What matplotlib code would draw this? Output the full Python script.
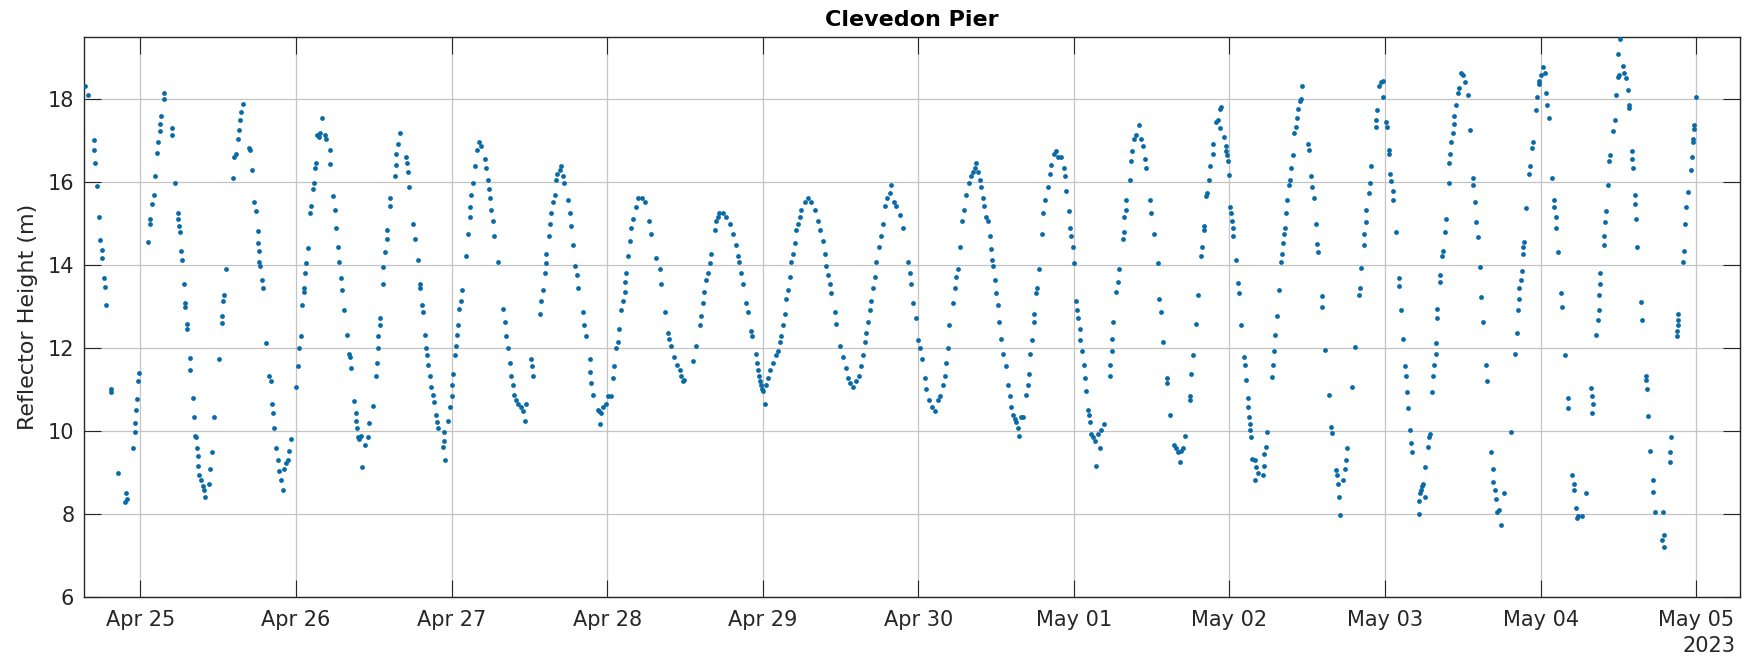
import datetime as dt
import matplotlib
matplotlib.use("Agg")
import matplotlib.pyplot as plt
import matplotlib.dates as mdates

# GNSS-IR reflector height retrievals: (hour of day UTC, height in m), one list per day
apr24 = [
    (15.46, 18.32), (15.97, 18.09), (16.80, 17.01), (16.85, 16.78), (17.00, 16.47),
    (17.31, 15.90), (17.67, 15.16), (17.83, 14.60), (18.03, 14.37), (18.13, 14.17),
    (18.44, 13.68), (18.48, 13.47), (18.70, 13.05), (19.45, 11.02), (19.50, 10.93),
    (20.50, 9.00), (21.70, 8.30), (21.80, 8.50), (21.90, 8.36), (22.80, 9.60),
    (23.15, 9.98), (23.22, 10.20), (23.38, 10.50), (23.42, 10.77), (23.68, 11.20),
    (23.72, 11.40),
]
apr25 = [
    (1.23, 14.55), (1.43, 14.98), (1.45, 15.12), (1.74, 15.48), (2.05, 15.70),
    (2.26, 16.15), (2.56, 16.71), (2.77, 16.98), (3.00, 17.23), (3.08, 17.41),
    (3.16, 17.59), (3.60, 18.00), (3.70, 18.14), (4.83, 17.31), (4.88, 17.13),
    (5.40, 15.97), (5.75, 15.25), (5.85, 15.12), (6.00, 14.94), (6.05, 14.80),
    (6.26, 14.35), (6.37, 14.13), (6.68, 13.54), (6.88, 13.09), (6.92, 12.98),
    (7.14, 12.58), (7.18, 12.46), (7.60, 11.76), (7.70, 11.47), (8.06, 10.79),
    (8.20, 10.34), (8.47, 9.89), (8.58, 9.85), (8.73, 9.58), (8.84, 9.40),
    (8.94, 9.17), (9.09, 8.95), (9.35, 8.81), (9.61, 8.68), (9.76, 8.59),
    (9.96, 8.41), (10.63, 8.72), (10.79, 9.08), (11.05, 9.49), (11.40, 10.34),
    (12.17, 11.74), (12.54, 12.60), (12.58, 12.77), (12.79, 13.14), (12.83, 13.27),
    (13.20, 13.90), (14.23, 16.11), (14.49, 16.60), (14.75, 16.69), (15.00, 17.05),
    (15.20, 17.25), (15.36, 17.50), (15.52, 17.70), (15.83, 17.89), (16.80, 16.83),
    (16.96, 16.77), (17.16, 16.29), (17.57, 15.52), (17.83, 15.30), (18.09, 14.82),
    (18.19, 14.53), (18.24, 14.35), (18.34, 14.08), (18.50, 13.99), (18.70, 13.63),
    (18.86, 13.45), (19.37, 12.12), (19.89, 11.33), (20.14, 11.20), (20.30, 10.66),
    (20.40, 10.43), (20.66, 10.07), (20.91, 9.58), (21.17, 9.31), (21.43, 9.04),
    (21.69, 8.81), (21.94, 8.59), (22.20, 9.08), (22.46, 9.22), (22.82, 9.31),
    (22.97, 9.53), (23.23, 9.80),
]
apr26 = [
    (0.00, 11.06), (0.30, 11.56), (0.50, 12.00), (0.70, 12.28), (1.00, 13.05),
    (1.20, 13.36), (1.30, 13.45), (1.40, 13.81), (1.50, 14.04), (1.80, 14.42),
    (2.20, 15.25), (2.37, 15.43), (2.63, 15.84), (2.73, 15.97), (2.90, 16.33),
    (3.04, 16.47), (3.20, 17.14), (3.55, 17.10), (3.76, 17.19), (4.07, 17.55),
    (4.43, 17.14), (4.68, 17.05), (5.20, 16.78), (5.30, 16.44), (5.70, 15.66),
    (6.00, 15.34), (6.20, 14.89), (6.50, 14.44), (6.60, 14.08), (7.00, 13.68),
    (7.15, 13.41), (7.40, 12.91), (7.80, 12.32), (8.20, 11.87), (8.40, 11.78),
    (8.45, 11.51), (8.90, 10.73), (9.20, 10.43), (9.30, 10.25), (9.40, 10.07),
    (9.57, 9.85), (9.72, 9.80), (10.08, 9.89), (10.20, 9.13), (10.60, 9.67),
    (11.10, 9.85), (11.26, 10.20), (11.88, 10.61), (12.30, 11.33), (12.50, 11.65),
    (12.65, 12.00), (12.70, 12.28), (12.90, 12.55), (12.95, 12.73), (13.40, 13.54),
    (13.50, 13.95), (13.80, 14.31), (14.00, 14.62), (14.05, 14.85), (14.45, 15.43),
    (14.55, 15.61), (15.20, 16.15), (15.37, 16.42), (15.50, 16.69), (15.70, 16.92),
    (16.00, 17.19), (16.90, 16.60), (17.10, 16.47), (17.30, 16.24), (17.50, 15.88),
    (18.05, 14.98), (18.30, 14.62), (18.80, 14.13), (19.10, 13.54), (19.20, 13.45),
    (19.50, 13.05), (19.60, 12.86), (19.85, 12.32), (20.10, 12.00), (20.20, 11.83),
    (20.40, 11.60), (20.60, 11.33), (20.90, 11.06), (21.10, 10.88), (21.30, 10.70),
    (21.60, 10.39), (21.80, 10.21), (21.90, 10.07), (22.70, 9.62), (22.80, 9.98),
    (22.90, 9.76), (22.95, 9.31), (23.40, 10.25), (23.70, 10.57),
]
apr27 = [
    (0.00, 10.84), (0.10, 11.10), (0.20, 11.38), (0.50, 11.83), (0.70, 12.05),
    (0.80, 12.32), (1.00, 12.55), (1.20, 12.95), (1.50, 13.14), (1.65, 13.41),
    (2.20, 14.22), (2.50, 14.76), (2.80, 15.16), (2.90, 15.39), (3.00, 15.70),
    (3.30, 15.97), (3.60, 16.38), (3.90, 16.78), (4.30, 16.96), (4.60, 16.87),
    (5.10, 16.56), (5.35, 16.33), (5.60, 16.06), (5.80, 15.84), (6.00, 15.61),
    (6.10, 15.34), (6.40, 15.07), (6.60, 14.71), (7.15, 14.08), (8.00, 12.95),
    (8.20, 12.64), (8.40, 12.28), (8.70, 12.00), (9.00, 11.65), (9.20, 11.33),
    (9.50, 11.10), (9.70, 10.88), (10.00, 10.75), (10.20, 10.66), (10.75, 10.57),
    (11.00, 10.48), (11.40, 10.25), (11.50, 10.66), (12.30, 11.74), (12.45, 11.56),
    (12.60, 11.33), (13.70, 12.82), (13.80, 13.14), (14.10, 13.41), (14.40, 13.81),
    (14.50, 14.04), (14.60, 14.26), (15.10, 14.71), (15.20, 14.98), (15.40, 15.25),
    (15.60, 15.52), (15.90, 15.70), (16.05, 16.06), (16.30, 16.20), (16.70, 16.29),
    (16.90, 16.38), (17.20, 16.15), (17.40, 15.97), (17.95, 15.57), (18.20, 15.25),
    (18.50, 14.94), (18.70, 14.49), (19.10, 13.99), (19.30, 13.77), (19.50, 13.45),
    (20.30, 12.86), (20.50, 12.55), (20.70, 12.28), (21.30, 11.74), (21.40, 11.42),
    (21.55, 11.15), (21.80, 10.88), (22.60, 10.52), (22.80, 10.48), (22.85, 10.16),
    (23.10, 10.43), (23.35, 10.57), (23.76, 10.66),
]
apr28 = [
    (0.10, 10.84), (0.60, 10.84), (0.90, 11.29), (1.10, 11.56), (1.40, 12.00),
    (1.70, 12.14), (1.80, 12.46), (2.20, 12.91), (2.40, 13.14), (2.70, 13.36),
    (2.80, 13.59), (2.90, 13.81), (3.20, 14.22), (3.50, 14.58), (3.70, 14.89),
    (4.00, 15.12), (4.40, 15.39), (4.70, 15.61), (5.30, 15.61), (5.80, 15.52),
    (6.50, 15.07), (6.80, 14.76), (7.60, 14.17), (8.10, 13.90), (8.30, 13.54),
    (8.90, 12.86), (9.40, 12.37), (9.60, 12.23), (9.90, 12.05), (10.25, 11.78),
    (10.70, 11.60), (11.20, 11.47), (11.40, 11.33), (11.70, 11.20), (11.90, 11.24),
    (13.20, 11.69), (13.70, 12.05), (14.30, 12.55), (14.50, 12.77), (14.80, 13.09),
    (15.00, 13.36), (15.30, 13.63), (15.50, 13.81), (15.80, 14.04), (16.05, 14.26),
    (16.60, 14.85), (16.80, 15.07), (17.10, 15.16), (17.30, 15.25), (17.85, 15.25),
    (18.40, 15.16), (18.90, 14.98), (19.40, 14.76), (19.90, 14.49), (20.20, 14.22),
    (20.40, 14.08), (20.70, 13.81), (20.95, 13.54), (21.45, 13.09), (21.70, 12.86),
    (22.20, 12.41), (22.40, 12.30), (22.90, 11.87), (23.10, 11.65), (23.30, 11.47),
    (23.50, 11.33), (23.60, 11.20), (23.80, 11.10), (23.90, 11.02),
]
apr29 = [
    (0.10, 10.97), (0.30, 10.66), (0.55, 11.11), (0.80, 11.29), (1.07, 11.47),
    (1.58, 11.65), (2.10, 11.83), (2.35, 11.92), (2.60, 12.14), (2.87, 12.28),
    (3.10, 12.55), (3.38, 12.82), (3.64, 13.18), (3.90, 13.41), (4.15, 13.72),
    (4.40, 14.08), (4.70, 14.26), (4.90, 14.53), (5.20, 14.85), (5.40, 14.98),
    (5.70, 15.16), (5.95, 15.34), (6.50, 15.52), (7.00, 15.61), (7.50, 15.52),
    (8.00, 15.34), (8.50, 15.07), (8.80, 14.85), (9.30, 14.58), (9.55, 14.26),
    (9.80, 13.99), (10.10, 13.77), (10.30, 13.54), (10.60, 13.32), (11.10, 12.86),
    (11.35, 12.59), (11.90, 12.05), (12.40, 11.78), (12.80, 11.51), (13.15, 11.29),
    (13.40, 11.15), (13.90, 11.06), (14.40, 11.20), (14.90, 11.33), (15.20, 11.56),
    (15.50, 11.83), (15.70, 12.14), (16.00, 12.37), (16.20, 12.64), (16.50, 12.91),
    (16.70, 13.14), (17.00, 13.45), (17.30, 13.72), (17.50, 14.08), (17.90, 14.44),
    (18.30, 14.71), (18.50, 14.98), (18.80, 15.43), (19.10, 15.61), (19.60, 15.75),
    (19.80, 15.93), (20.20, 15.52), (20.60, 15.43), (21.10, 15.21), (21.60, 14.89),
    (22.40, 14.08), (22.70, 13.81), (22.90, 13.54), (23.20, 13.09), (23.60, 12.73),
    (23.90, 12.19),
]
apr30 = [
    (0.20, 12.01), (0.60, 11.74), (0.97, 11.29), (1.20, 11.02), (1.70, 10.75),
    (2.10, 10.57), (2.50, 10.48), (3.00, 10.75), (3.40, 10.84), (3.80, 11.11),
    (4.05, 11.33), (4.30, 11.65), (4.60, 12.01), (4.80, 12.55), (5.30, 13.09),
    (5.60, 13.45), (5.85, 13.72), (6.10, 13.90), (6.40, 14.44), (6.80, 15.07),
    (7.00, 15.34), (7.40, 15.70), (7.80, 15.97), (8.20, 16.15), (8.50, 16.24),
    (8.70, 16.33), (8.90, 16.47), (9.20, 16.24), (9.50, 16.06), (9.70, 15.88),
    (10.00, 15.61), (10.20, 15.43), (10.50, 15.16), (10.70, 15.07), (11.00, 14.71),
    (11.25, 14.40), (11.40, 14.13), (11.50, 13.99), (11.90, 13.63), (12.00, 13.32),
    (12.30, 13.05), (12.50, 12.64), (12.80, 12.23), (13.05, 11.87), (13.60, 11.56),
    (13.80, 11.11), (14.10, 10.84), (14.30, 10.57), (14.60, 10.39), (14.85, 10.30),
    (15.10, 10.21), (15.40, 10.07), (15.60, 9.89), (15.90, 10.34), (16.10, 10.34),
    (16.65, 10.88), (16.90, 11.11), (17.06, 11.38), (17.30, 11.87), (17.60, 12.19),
    (17.80, 12.64), (17.90, 12.82), (18.20, 13.32), (18.30, 13.45), (18.60, 13.90),
    (19.10, 14.76), (19.30, 15.25), (19.60, 15.57), (20.00, 15.88), (20.25, 16.20),
    (20.50, 16.42), (20.90, 16.69), (21.20, 16.74), (21.50, 16.60), (22.05, 16.60),
    (22.40, 16.33), (22.70, 16.15), (22.80, 15.79), (23.20, 15.30), (23.40, 14.89),
    (23.60, 14.71), (23.85, 14.44), (23.95, 14.04),
]
may01 = [
    (0.40, 13.14), (0.50, 12.91), (0.60, 12.73), (0.90, 12.46), (1.00, 12.19),
    (1.30, 11.92), (1.50, 11.60), (1.65, 11.29), (1.80, 10.97), (2.20, 10.52),
    (2.30, 10.39), (2.50, 10.21), (2.70, 9.94), (2.90, 9.85), (3.20, 9.76),
    (3.40, 9.17), (3.70, 9.94), (3.96, 9.58), (4.20, 10.03), (4.60, 10.16),
    (5.50, 11.33), (5.60, 11.60), (5.80, 11.92), (5.90, 12.23), (6.10, 12.64),
    (6.50, 13.36), (6.80, 13.59), (6.90, 13.90), (7.50, 14.62), (7.70, 14.80),
    (7.80, 15.16), (8.00, 15.34), (8.10, 15.57), (8.60, 16.06), (8.80, 16.51),
    (9.00, 16.74), (9.20, 17.05), (9.60, 17.14), (10.00, 17.37), (10.40, 17.05),
    (10.60, 16.87), (10.90, 16.56), (11.10, 16.33), (11.70, 15.57), (11.90, 15.25),
    (12.30, 14.76), (12.95, 14.04), (13.20, 13.18), (13.50, 12.86), (13.80, 12.14),
    (14.30, 11.29), (14.35, 11.15), (14.90, 10.39), (15.40, 9.67), (15.70, 9.58),
    (16.00, 9.49), (16.30, 9.26), (16.55, 9.53), (16.80, 9.58), (17.20, 9.89),
    (17.85, 10.75), (17.90, 10.84), (18.10, 11.38), (18.35, 11.83), (18.80, 12.59),
    (19.10, 13.27), (19.60, 14.22), (19.80, 14.44), (20.00, 14.85), (20.05, 14.94),
    (20.30, 15.66), (20.50, 15.75), (20.90, 16.06), (21.00, 16.38), (21.40, 16.69),
    (21.50, 16.92), (21.95, 17.46), (22.20, 17.50), (22.50, 17.77), (22.60, 17.31),
    (22.70, 17.82), (23.20, 17.10), (23.40, 16.87), (23.50, 16.74), (23.60, 16.65),
    (23.75, 16.51), (23.90, 16.17),
]
may02 = [
    (0.10, 15.39), (0.30, 15.25), (0.40, 15.07), (0.50, 14.89), (0.60, 14.71),
    (1.00, 14.13), (1.30, 13.56), (1.45, 13.34), (1.80, 12.55), (2.30, 11.78),
    (2.40, 11.60), (2.60, 11.24), (2.85, 10.79), (2.90, 10.57), (3.00, 10.34),
    (3.10, 10.16), (3.20, 10.03), (3.25, 9.85), (3.50, 9.32), (3.90, 9.31),
    (4.00, 8.81), (4.10, 9.13), (4.40, 8.99), (5.15, 8.95), (5.25, 9.17),
    (5.40, 9.44), (5.60, 9.62), (5.80, 9.98), (6.60, 11.31), (6.70, 11.60),
    (6.80, 11.92), (6.95, 12.32), (7.30, 12.77), (7.60, 13.41), (8.00, 14.08),
    (8.10, 14.26), (8.20, 14.53), (8.40, 14.76), (8.50, 14.89), (8.75, 15.25),
    (8.85, 15.57), (9.20, 15.93), (9.30, 16.06), (9.50, 16.33), (9.80, 16.65),
    (10.00, 17.19), (10.20, 17.32), (10.40, 17.55), (10.55, 17.77), (10.90, 17.95),
    (11.10, 18.00), (11.20, 18.32), (12.10, 16.92), (12.20, 16.78), (12.60, 16.15),
    (12.80, 15.88), (13.00, 15.61), (13.30, 15.00), (13.50, 14.51), (13.60, 14.31),
    (14.20, 13.25), (14.30, 13.00), (14.70, 11.96), (15.30, 10.88), (15.70, 10.10),
    (15.85, 9.95), (16.50, 9.05), (16.60, 8.95), (16.70, 8.72), (16.90, 8.42),
    (17.10, 7.97), (17.50, 8.81), (17.75, 9.08), (17.90, 9.31), (18.10, 9.58),
    (18.90, 11.06), (19.40, 12.03), (19.95, 13.29), (20.20, 13.45), (20.30, 13.92),
    (20.70, 14.49), (20.80, 14.76), (21.00, 15.03), (21.10, 15.34), (21.50, 15.75),
    (21.60, 15.97), (21.90, 16.38), (22.60, 17.32), (22.65, 17.50), (22.70, 17.73),
    (23.00, 18.32), (23.40, 18.41), (23.65, 18.05), (23.75, 18.45),
]
may03 = [
    (0.20, 17.46), (0.30, 17.32), (0.60, 16.78), (0.65, 16.69), (0.80, 16.20),
    (0.90, 16.02), (1.20, 15.79), (1.25, 15.57), (1.70, 14.80), (2.10, 13.68),
    (2.20, 13.50), (2.50, 12.93), (2.80, 12.23), (3.15, 11.58), (3.25, 11.33),
    (3.35, 10.93), (3.50, 10.55), (3.80, 10.03), (4.00, 9.71), (4.20, 9.50),
    (5.20, 8.00), (5.30, 8.32), (5.40, 8.50), (5.60, 8.59), (5.70, 8.68),
    (5.90, 8.72), (6.10, 8.41), (6.20, 9.14), (6.60, 9.62), (6.75, 9.85),
    (6.90, 9.94), (7.30, 10.93), (7.40, 11.33), (7.60, 11.60), (7.80, 11.87),
    (7.90, 12.12), (8.00, 12.73), (8.05, 12.95), (8.40, 13.59), (8.50, 13.77),
    (8.80, 14.22), (8.90, 14.35), (9.30, 14.80), (9.35, 15.12), (9.80, 15.97),
    (9.90, 16.47), (10.05, 16.69), (10.20, 16.96), (10.45, 17.19), (10.60, 17.41),
    (10.70, 17.59), (10.97, 17.86), (11.20, 18.14), (11.40, 18.27), (11.70, 18.63),
    (12.00, 18.59), (12.40, 18.41), (12.80, 18.09), (13.10, 17.25), (13.50, 16.11),
    (13.60, 15.93), (13.80, 15.52), (14.10, 15.03), (14.30, 14.67), (14.60, 13.95),
    (14.80, 13.23), (15.10, 12.64), (15.50, 11.60), (15.70, 11.20), (16.40, 9.49),
    (16.60, 9.08), (16.70, 8.78), (16.90, 8.59), (17.10, 8.36), (17.20, 8.05),
    (17.65, 8.09), (17.90, 7.73), (18.40, 8.51), (19.50, 9.98), (20.10, 11.85),
    (20.30, 12.37), (20.50, 12.91), (20.60, 13.18), (20.70, 13.45), (21.00, 13.63),
    (21.05, 13.86), (21.30, 14.26), (21.35, 14.44), (21.40, 14.55), (21.80, 15.37),
    (22.20, 16.20), (22.30, 16.38), (22.70, 16.83), (22.80, 16.96), (23.30, 17.73),
    (23.40, 18.05), (23.70, 18.45), (23.80, 18.36),
]
may04 = [
    (0.10, 18.59), (0.40, 18.77), (0.60, 18.63), (0.80, 18.14), (0.95, 17.86),
    (1.25, 17.55), (1.80, 16.11), (2.00, 15.57), (2.10, 15.39), (2.30, 15.16),
    (2.40, 14.89), (2.60, 14.31), (3.20, 13.32), (3.30, 13.00), (3.70, 11.83),
    (4.20, 10.79), (4.25, 10.55), (4.85, 8.95), (5.10, 8.72), (5.20, 8.59),
    (5.50, 8.14), (5.55, 7.91), (5.70, 7.95), (6.40, 7.95), (7.00, 8.50),
    (7.80, 11.04), (7.85, 10.43), (7.90, 10.84), (8.00, 10.66), (8.60, 12.32),
    (8.80, 12.68), (9.00, 12.91), (9.05, 13.27), (9.10, 13.54), (9.20, 13.81),
    (9.70, 14.49), (9.75, 14.71), (10.00, 15.05), (10.05, 15.30), (10.40, 15.93),
    (10.60, 16.51), (10.70, 16.65), (11.10, 17.23), (11.40, 17.50), (11.60, 18.09),
    (11.90, 18.54), (11.90, 19.08), (12.15, 18.59), (12.20, 19.44), (12.70, 18.81),
    (12.80, 18.63), (13.20, 18.50), (13.40, 18.23), (13.60, 17.86), (13.70, 17.79),
    (14.10, 16.74), (14.15, 16.56), (14.20, 16.33), (14.50, 15.70), (14.60, 15.48),
    (14.70, 15.12), (14.90, 14.44), (15.50, 13.10), (15.70, 12.68), (16.20, 11.33),
    (16.30, 11.24), (16.35, 11.02), (16.50, 10.37), (16.90, 9.53), (17.30, 8.81),
    (17.40, 8.54), (17.60, 8.06), (18.70, 7.37), (18.80, 8.05), (18.95, 7.49),
    (19.00, 7.21), (19.90, 9.26), (19.95, 9.50), (20.10, 9.86), (21.00, 12.28),
    (21.10, 12.41), (21.15, 12.55), (21.20, 12.68), (21.25, 12.82), (22.00, 14.08),
    (22.05, 14.35), (22.30, 14.98), (22.45, 15.39), (22.70, 15.77), (23.20, 16.29),
    (23.30, 16.60), (23.50, 16.96), (23.55, 17.05), (23.60, 17.28), (23.65, 17.37),
    (23.90, 18.05),
]

days = [
    (dt.datetime(2023, 4, 24), apr24),
    (dt.datetime(2023, 4, 25), apr25),
    (dt.datetime(2023, 4, 26), apr26),
    (dt.datetime(2023, 4, 27), apr27),
    (dt.datetime(2023, 4, 28), apr28),
    (dt.datetime(2023, 4, 29), apr29),
    (dt.datetime(2023, 4, 30), apr30),
    (dt.datetime(2023, 5, 1), may01),
    (dt.datetime(2023, 5, 2), may02),
    (dt.datetime(2023, 5, 3), may03),
    (dt.datetime(2023, 5, 4), may04),
]

times = []
heights = []
for day, readings in days:
    for hr, rh in readings:
        times.append(day + dt.timedelta(hours=hr))
        heights.append(rh)

ink = "#262626"
plt.rcParams["font.family"] = "DejaVu Sans"

fig = plt.figure(figsize=(17.6, 6.63), dpi=100)
ax = fig.add_axes([84 / 1760, 66 / 663, 1656 / 1760, 560 / 663])

ax.scatter(times, heights, s=12, color="#0a6aa8", linewidths=0, zorder=3)

ax.set_xlim(dt.datetime(2023, 4, 24, 15, 18), dt.datetime(2023, 5, 5, 6, 45))
ax.set_ylim(6, 19.5)
ax.set_yticks(range(6, 19, 2))
ax.xaxis.set_major_locator(mdates.DayLocator())
ax.xaxis.set_major_formatter(mdates.DateFormatter("%b %d"))

ax.grid(True, color="#c4c4c4", linewidth=0.9)
ax.set_axisbelow(True)
ax.tick_params(direction="in", length=12, width=0.8, top=True, right=True,
               labelsize=15, colors=ink, pad=7)
ax.tick_params(axis="x", pad=9)
for sp in ax.spines.values():
    sp.set_color(ink)
    sp.set_linewidth(1.0)

ax.set_title("Clevedon Pier", fontsize=16, fontweight="bold", pad=8, color="black")
ax.set_ylabel("Reflector Height (m)", fontsize=16, color=ink)
ax.yaxis.set_label_coords(-0.028, 0.5)
fig.text(1735 / 1760, 1 - 636 / 663, "2023", ha="right", va="top", fontsize=15, color=ink)

fig.savefig("out.png", dpi=100)
